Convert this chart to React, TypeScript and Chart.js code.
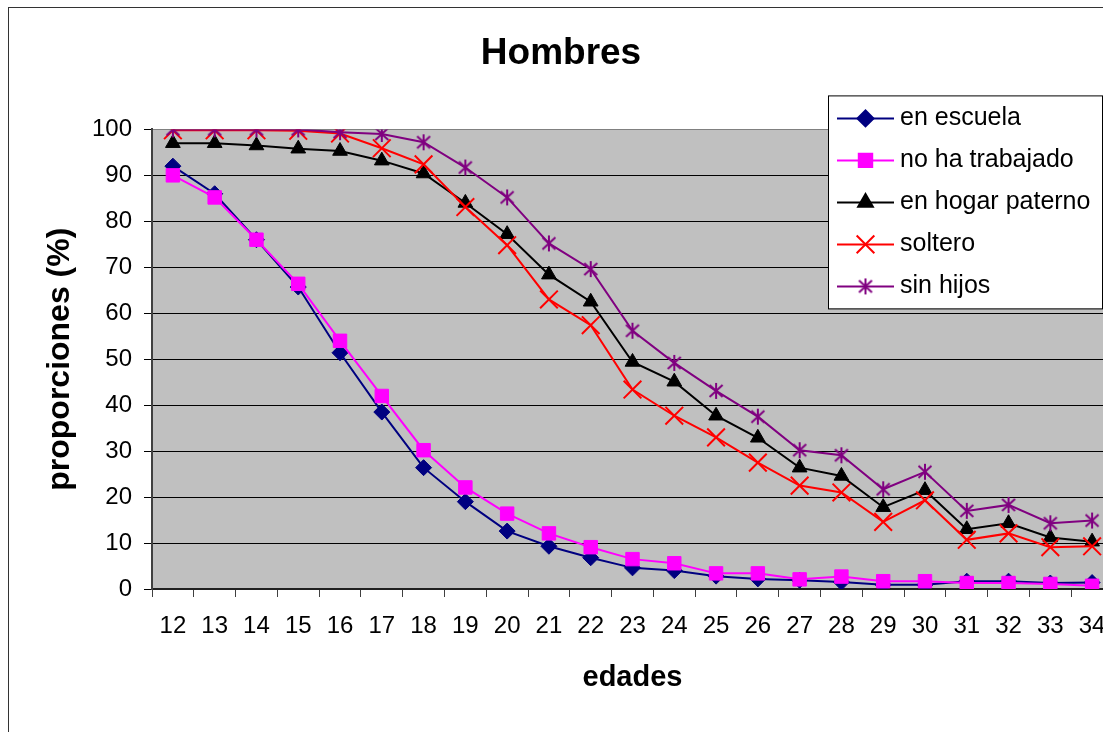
import React, { useEffect, useRef } from "react";
import { Chart, registerables } from "chart.js";
import { drawPoint } from "chart.js/helpers";

Chart.register(...registerables);

const edades = ["12", "13", "14", "15", "16", "17", "18", "19", "20", "21", "22", "23", "24", "25", "26", "27", "28", "29", "30", "31", "32", "33", "34"];

const enEscuela = [92, 86, 76, 65.7, 51.4, 38.5, 26.4, 19.0, 12.6, 9.3, 6.8, 4.6, 4.0, 2.8, 2.2, 1.9, 1.5, 0.9, 0.9, 1.7, 1.7, 1.3, 1.4];
const noHaTrabajado = [90, 85.2, 76, 66.4, 54, 42, 30.2, 22.1, 16.4, 12.1, 9.1, 6.5, 5.6, 3.4, 3.4, 2.1, 2.7, 1.7, 1.7, 1.3, 1.3, 1.1, 0.7];
const enHogarPaterno = [97, 97, 96.5, 95.8, 95.3, 93.2, 90.4, 84.0, 77.2, 68.4, 62.5, 49.4, 45.1, 37.7, 32.9, 26.4, 24.6, 17.8, 21.5, 13.0, 14.3, 11.2, 10.3];
const soltero = [99.8, 99.8, 99.8, 99.7, 99.1, 95.9, 92.4, 83.1, 74.8, 63.0, 57.4, 43.4, 37.7, 33.0, 27.5, 22.5, 21.0, 14.6, 19.3, 10.7, 12.1, 9.1, 9.3];
const sinHijos = [100, 100, 100, 100, 99.4, 99.0, 97.2, 91.7, 85.2, 75.2, 69.6, 56.2, 49.2, 43.1, 37.5, 30.2, 29.1, 21.7, 25.5, 17.0, 18.3, 14.3, 14.9];

const yTicks = [0, 10, 20, 30, 40, 50, 60, 70, 80, 90, 100];

const FONT = "'Liberation Sans', Arial, sans-serif";

function makeStar(color: string): HTMLCanvasElement {
  const c = document.createElement("canvas");
  c.width = 18;
  c.height = 18;
  const g = c.getContext("2d")!;
  g.strokeStyle = color;
  g.lineWidth = 2;
  g.lineCap = "butt";
  g.beginPath();
  g.moveTo(9, 1);
  g.lineTo(9, 17);
  g.moveTo(2.5, 3);
  g.lineTo(15.5, 15);
  g.moveTo(15.5, 3);
  g.lineTo(2.5, 15);
  g.stroke();
  return c;
}

const bgPlugin = {
  id: "plotBg",
  beforeDraw(chart: any) {
    const { ctx, chartArea: a } = chart;
    ctx.save();
    ctx.fillStyle = "#c0c0c0";
    ctx.fillRect(a.left, a.top, a.right - a.left, a.bottom - a.top);
    ctx.restore();
  },
};

const legendPlugin = {
  id: "boxLegend",
  afterDraw(chart: any) {
    const { ctx, chartArea: a } = chart;
    const x0 = a.right - 285;
    const y0 = a.top - 34;
    const w = 274;
    const h = 213;
    ctx.save();
    ctx.fillStyle = "#ffffff";
    ctx.fillRect(x0, y0, w, h);
    ctx.strokeStyle = "#000000";
    ctx.lineWidth = 1;
    ctx.strokeRect(x0 + 0.5, y0 + 0.5, w, h);
    chart.data.datasets.forEach((ds: any, i: number) => {
      const y = y0 + 23 + i * 42;
      ctx.strokeStyle = ds.borderColor;
      ctx.lineWidth = 2;
      ctx.beginPath();
      ctx.moveTo(x0 + 9, y);
      ctx.lineTo(x0 + 66, y);
      ctx.stroke();
      ctx.fillStyle = ds.pointBackgroundColor;
      ctx.strokeStyle = ds.pointBorderColor;
      drawPoint(ctx, {
        pointStyle: ds.pointStyle,
        radius: ds.pointRadius,
        rotation: 0,
        borderWidth: ds.pointBorderWidth,
      } as any, x0 + 37.5, y);
      ctx.fillStyle = "#000000";
      ctx.font = `25px ${FONT}`;
      ctx.textBaseline = "middle";
      ctx.textAlign = "left";
      ctx.fillText(ds.label, x0 + 72, y);
    });
    ctx.restore();
  },
};

export default function App() {
  const ref = useRef<HTMLCanvasElement | null>(null);

  useEffect(() => {
    if (!ref.current) return;
    const star = makeStar("#800080");
    const series = [
      { label: "en escuela", data: enEscuela, color: "#000080", style: "rectRot", r: 8, bw: 1 },
      { label: "no ha trabajado", data: noHaTrabajado, color: "#ff00ff", style: "rect", r: 9.5, bw: 1 },
      { label: "en hogar paterno", data: enHogarPaterno, color: "#000000", style: "triangle", r: 8.5, bw: 1 },
      { label: "soltero", data: soltero, color: "#ff0000", style: "crossRot", r: 12.5, bw: 2 },
      { label: "sin hijos", data: sinHijos, color: "#800080", style: star, r: 9, bw: 2 },
    ];
    const chart = new Chart(ref.current, {
      type: "line",
      data: {
        labels: edades,
        datasets: series.map((s, i) => ({
          label: s.label,
          data: s.data,
          borderColor: s.color,
          backgroundColor: s.color,
          borderWidth: 2,
          pointStyle: s.style as any,
          pointRadius: s.r,
          pointBackgroundColor: s.color,
          pointBorderColor: s.color,
          pointBorderWidth: s.bw,
          tension: 0,
          fill: false,
          order: series.length - 1 - i,
        })),
      },
      options: {
        responsive: false,
        animation: false,
        devicePixelRatio: 1,
        layout: { padding: { left: 0, right: 16, top: 0, bottom: 0 } },
        plugins: {
          legend: { display: false },
          tooltip: { enabled: false },
          title: {
            display: true,
            text: "Hombres",
            color: "#000000",
            font: { family: FONT, size: 37, weight: "bold" },
            padding: { top: 24, bottom: 53 },
          },
        },
        scales: {
          x: {
            type: "category",
            offset: true,
            afterFit: (s: any) => {
              s.height = 116;
            },
            grid: {
              offset: true,
              drawOnChartArea: false,
              drawTicks: true,
              tickLength: 8,
              tickColor: "#404040",
            },
            border: { display: true, color: "#202020", width: 2 },
            ticks: {
              color: "#000000",
              font: { family: FONT, size: 24 },
              padding: 15,
              autoSkip: false,
              maxRotation: 0,
              minRotation: 0,
            },
            title: {
              display: true,
              text: "edades",
              color: "#000000",
              font: { family: FONT, size: 29, weight: "bold" },
              padding: { top: 0, bottom: 10 },
            },
          },
          y: {
            min: 0,
            max: 100,
            afterFit: (s: any) => {
              s.width = 143;
            },
            afterBuildTicks: (s: any) => {
              s.ticks = yTicks.map((v) => ({ value: v }));
            },
            grid: {
              color: (c: any) => (c.tick && c.tick.value === 100 ? "#808080" : "#000000"),
              lineWidth: 1,
              drawTicks: true,
              tickLength: 8,
              tickColor: "#000000",
            },
            border: { display: true, color: "#404040", width: 2 },
            ticks: {
              color: "#000000",
              font: { family: FONT, size: 24 },
              padding: 12,
            },
            title: {
              display: true,
              text: "proporciones (%)",
              color: "#000000",
              font: { family: FONT, size: 32, weight: "bold" },
              padding: { top: 32, bottom: 0 },
            },
          },
        },
      },
      plugins: [bgPlugin, legendPlugin],
    });
    return () => chart.destroy();
  }, []);

  return (
    <div style={{ position: "fixed", left: 0, top: 0, width: 1103, height: 732, overflow: "hidden", background: "#ffffff" }}>
      <div
        style={{
          position: "absolute",
          left: 8,
          top: 7,
          width: 1200,
          height: 800,
          borderLeft: "1px solid #333333",
          borderTop: "1px solid #333333",
          background: "#ffffff",
        }}
      >
        <canvas ref={ref} width={1120} height={697} style={{ display: "block", width: 1120, height: 697 }} />
      </div>
    </div>
  );
}
